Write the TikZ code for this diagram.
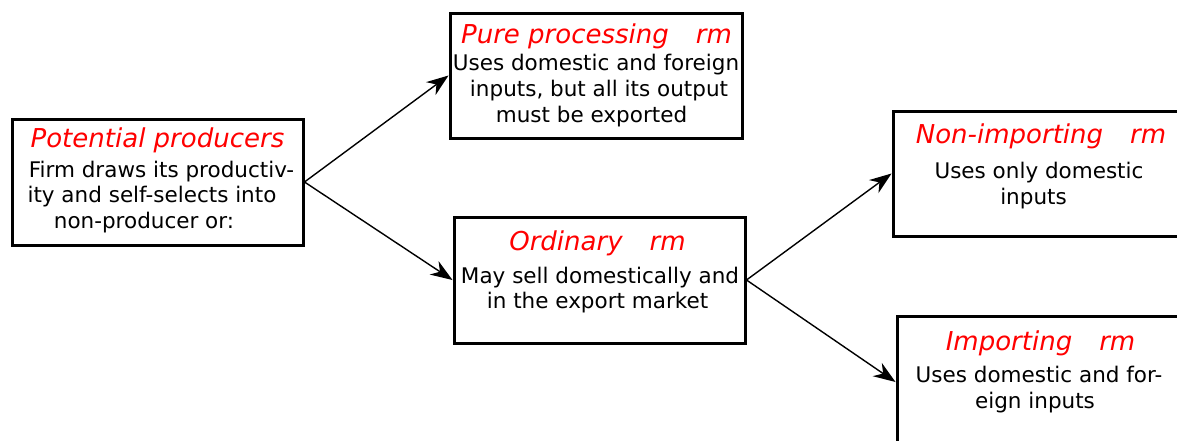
\documentclass[tikz,border=0pt]{standalone}
\usepackage{fontspec}
\setmainfont{DejaVu Sans}
\usetikzlibrary{arrows.meta}
\definecolor{ttlred}{RGB}{255,0,0}
\begin{document}
\begin{tikzpicture}[x=1pt,y=-1pt,
  box/.style={draw=black, line width=3pt, rectangle, inner sep=0pt, fill=none},
  ttl/.style={anchor=base, inner sep=0pt, text=ttlred, font=\fontsize{26}{30}\selectfont\itshape},
  body/.style={anchor=base, inner sep=0pt, text=black, font=\fontsize{21.5}{26}\selectfont},
  arr/.style={draw=black, line width=1.4pt, -{Stealth[length=22pt,width=16pt,inset=7pt]}}]
\useasboundingbox (0,0) rectangle (1177,440);
\clip (0,0) rectangle (1177,440);
% boxes
\node[box, minimum width=291pt, minimum height=126pt] (pot) at (157.5,182) {};
\node[box, minimum width=292pt, minimum height=125pt] (pure) at (596,75.5) {};
\node[box, minimum width=291pt, minimum height=126pt] (ord) at (599.5,280) {};
\node[box, minimum width=291pt, minimum height=125pt] (nonimp) at (1038.5,173.5) {};
\node[box, minimum width=291pt, minimum height=132pt] (imp) at (1042.5,382) {};
% potential producers
\node[ttl] (pot-t) at (157.5,147) {Potential producers};
\node[body] (pot-1) at (161.5,177) {Firm draws its productiv-};
\node[body] (pot-2) at (152,202) {ity and self-selects into};
\node[body] (pot-3) at (144,228) {non-producer or:};
% pure processing
\node[ttl] (pure-t) at (596.5,43) {Pure processing\hspace*{27pt}rm};
\node[body] (pure-1) at (596,70) {Uses domestic and foreign};
\node[body] (pure-2) at (599,96) {inputs, but all its output};
\node[body] (pure-3) at (591.5,122) {must be exported};
% ordinary
\node[ttl] (ord-t) at (597.5,250) {Ordinary\hspace*{27pt}rm};
\node[body] (ord-1) at (600,283) {May sell domestically and};
\node[body] (ord-2) at (597.5,308) {in the export market};
% non-importing
\node[ttl] (nonimp-t) at (1041,143) {Non-importing\hspace*{27pt}rm};
\node[body] (nonimp-1) at (1039,178) {Uses only domestic};
\node[body] (nonimp-2) at (1033.5,204) {inputs};
% importing
\node[ttl] (imp-t) at (1040.5,350) {Importing\hspace*{27pt}rm};
\node[body] (imp-1) at (1039,382) {Uses domestic and for-};
\node[body] (imp-2) at (1035,408) {eign inputs};
% arrows
\draw[arr] (pot.east) -- (pure.west);
\draw[arr] (pot.east) -- (ord.west);
\draw[arr] (ord.east) -- (nonimp.west);
\draw[arr] (ord.east) -- (imp.west);
\end{tikzpicture}
\end{document}
